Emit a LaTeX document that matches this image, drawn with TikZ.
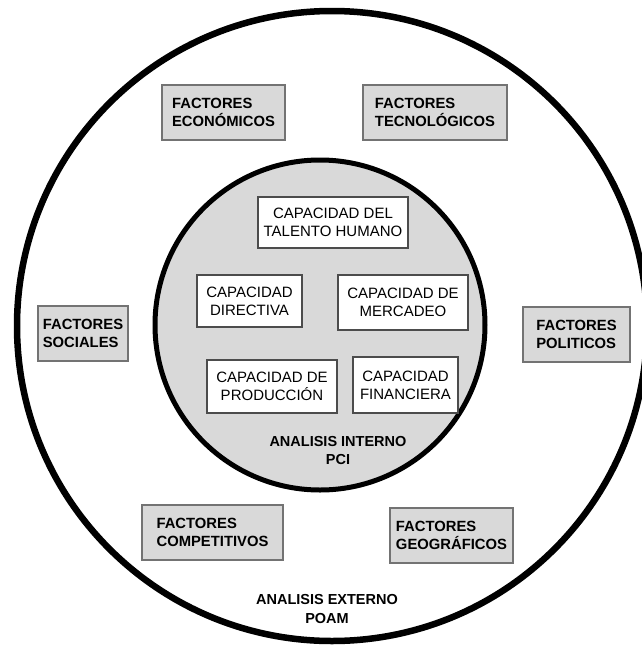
\documentclass[tikz,border=0pt]{standalone}
\usepackage{fontspec}
\setmainfont{Liberation Sans}
\begin{document}
\begin{tikzpicture}[x=1pt,y=-1pt,
  factor/.style={draw=black!55, line width=2.2pt, fill=black!15, inner sep=2pt,
    align=left, font=\bfseries\fontsize{14.8}{18}\selectfont, minimum height=55},
  capacity/.style={draw=black!70, line width=1.8pt, fill=white, inner sep=2pt,
    align=center, font=\fontsize{15}{18}\selectfont},
  label/.style={align=center, font=\bfseries\fontsize{14.5}{18}\selectfont}]
  \useasboundingbox (0,0) rectangle (642,649);
  \clip (0,0) rectangle (642,649);

  % outer and inner rings
  \draw[line width=6.5pt] (332,326) circle[radius=315];
  \draw[line width=5pt, fill=black!15] (320,325) circle[radius=165];

  % external factors
  \node[factor, minimum width=123] (eco) at (223.5,112.5) {FACTORES\\ECONÓMICOS};
  \node[factor, minimum width=144] (tec) at (435,112.5) {FACTORES\\TECNOLÓGICOS};
  \node[factor, minimum width=90]  (soc) at (83,333.5) {FACTORES\\SOCIALES};
  \node[factor, minimum width=107] (pol) at (576.5,334.5) {FACTORES\\POLITICOS};
  \node[factor, minimum width=141] (com) at (212.5,532.5) {FACTORES\\COMPETITIVOS};
  \node[factor, minimum width=123] (geo) at (451.5,535.5) {FACTORES\\GEOGRÁFICOS};

  % internal capacities
  \node[capacity, minimum width=150, minimum height=51] (tal) at (333,222.5) {CAPACIDAD DEL\\TALENTO HUMANO};
  \node[capacity, minimum width=105, minimum height=52] (dir) at (249.5,301) {CAPACIDAD\\DIRECTIVA};
  \node[capacity, minimum width=130, minimum height=55] (mer) at (403,302.5) {CAPACIDAD DE\\MERCADEO};
  \node[capacity, minimum width=130, minimum height=53] (pro) at (272,386.5) {CAPACIDAD DE\\PRODUCCIÓN};
  \node[capacity, minimum width=105, minimum height=56] (fin) at (405.5,385) {CAPACIDAD\\FINANCIERA};

  % ring labels
  \node[label] (pci) at (338,451) {ANALISIS INTERNO\\PCI};
  \node[label] (poam) at (327,609) {ANALISIS EXTERNO\\POAM};
\end{tikzpicture}
\end{document}
